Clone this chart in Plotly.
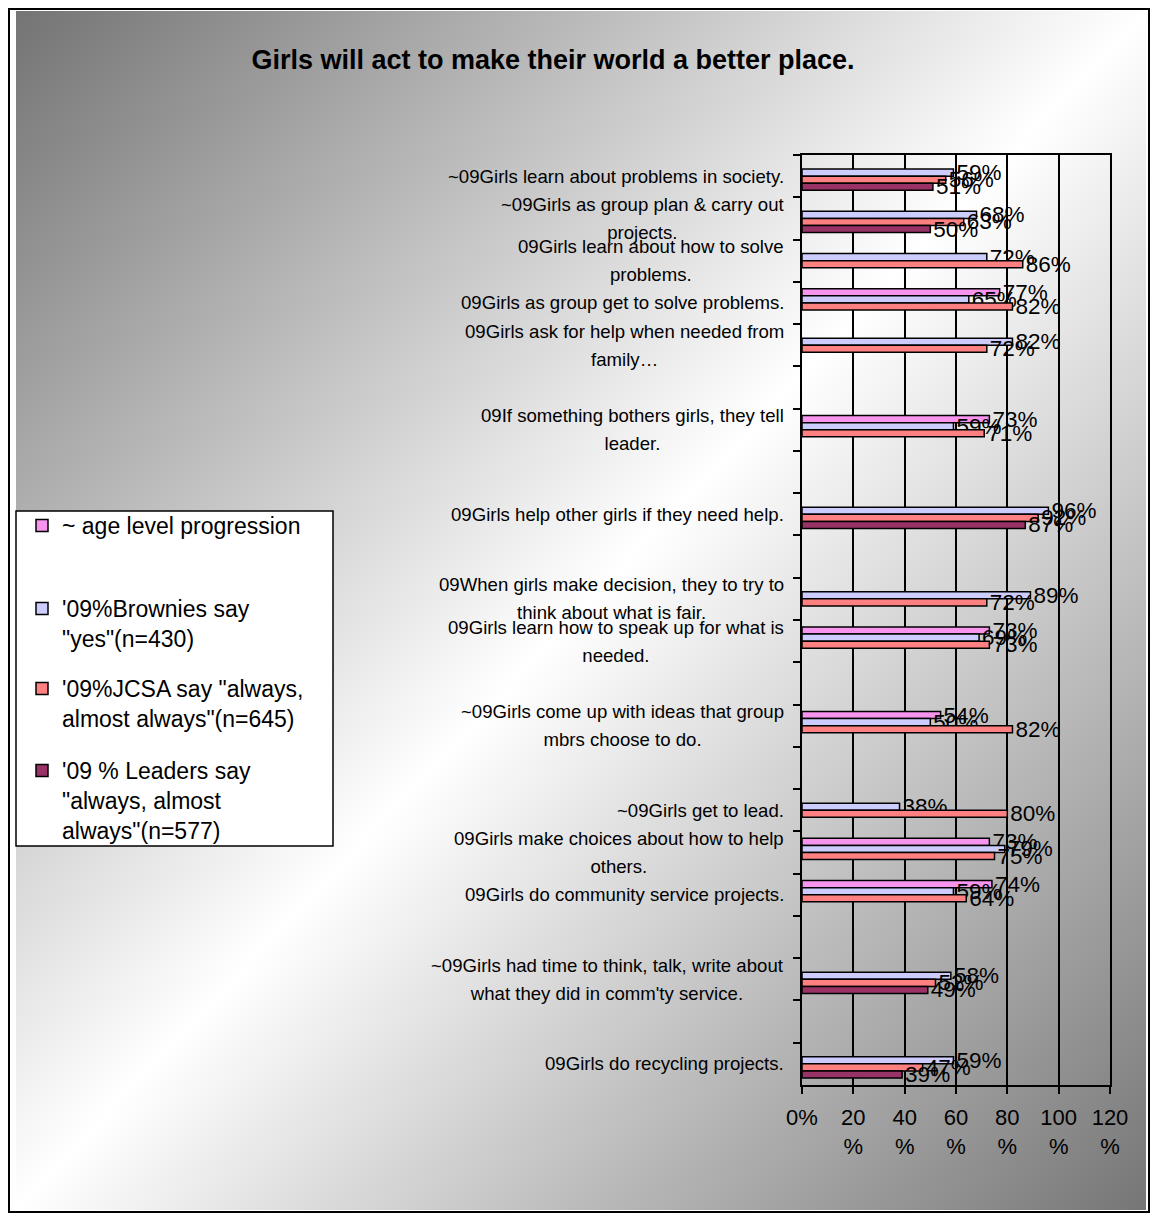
import base64
import plotly.graph_objects as go

# ---------------- data ----------------
labels = [
    "~09Girls learn about problems in society.",
    "~09Girls as group plan & carry out<br>projects.",
    "09Girls learn about how to solve<br>problems.",
    "09Girls as group get to solve problems.",
    "09Girls ask for help when needed from<br>family…",
    "",
    "09If something bothers girls, they tell<br>leader.",
    "",
    "09Girls help other girls if they need help.",
    "",
    "09When girls make decision, they to try to<br>think about what is fair.",
    "09Girls learn how to speak up for what is<br>needed.",
    "",
    "~09Girls come up with ideas that group<br>mbrs choose to do.",
    "",
    "~09Girls get to lead.",
    "09Girls make choices about how to help<br>others.",
    "09Girls do community service projects.",
    "",
    "~09Girls had time to think, talk, write about<br>what they did in comm'ty service.",
    "",
    "09Girls do recycling projects.",
]
N = None
progression = [N, N, N, 77, N, N, 73, N, N, N, N, 73, N, 54, N, N, 73, 74, N, N, N, N]
brownies = [59, 68, 72, 65, 82, N, 59, N, 96, N, 89, 69, N, 50, N, 38, 79, 59, N, 58, N, 59]
jcsa = [56, 63, 86, 82, 72, N, 71, N, 92, N, 72, 73, N, 82, N, 80, 75, 64, N, 52, N, 47]
leaders = [51, 50, N, N, N, N, N, N, 87, N, N, N, N, N, N, N, N, N, N, 49, N, 39]

series_names = [
    "~ age level progression",
    "'09%Brownies say<br>\"yes\"(n=430)",
    "'09%JCSA say \"always,<br>almost always\"(n=645)",
    "'09 % Leaders say<br>\"always, almost<br>always\"(n=577)",
]
series_colors = ["#F794EE", "#CCCCFF", "#FF8080", "#993366"]

tick_vals = [0, 20, 40, 60, 80, 100, 120]
tick_text = ["0%", "20<br>%", "40<br>%", "60<br>%", "80<br>%", "100<br>%", "120<br>%"]

title_text = "Girls will act to make their world a better place."

# ---------------- geometry (screen px -> figure) ----------------
OFF = 8                      # page margin around the figure
W, H = 1142, 1205            # figure size so the page fits the 1158x1221 window
PX0, PX1, PY0, PY1 = 802, 1110, 155, 1085   # plot area in screen px
L, R = PX0 - OFF, W - (PX1 - OFF)
T, B = PY0 - OFF, H - (PY1 - OFF)
PW, PH = W - L - R, H - T - B
FONT = "Liberation Sans, Arial, sans-serif"


def px(sx):
    return (sx - OFF - L) / PW


def py(sy):
    return (H - B - (sy - OFF)) / PH


def cx(sx):
    return (sx - OFF) / W


def cy(sy):
    return 1 - (sy - OFF) / H


# unique keys for the category axis (blank slots need distinct names)
cats = [lab if lab else "blank%d" % i for i, lab in enumerate(labels)]

fig = go.Figure()
legend_ids = ["legend", "legend2", "legend3", "legend4"]
for vals, name, color, lg in zip([progression, brownies, jcsa, leaders],
                                 series_names, series_colors, legend_ids):
    fig.add_trace(go.Bar(
        y=cats, x=vals, orientation="h", name=name,
        marker=dict(color=color, line=dict(color="black", width=1.5)),
        text=[("%d%%" % v) if v is not None else "" for v in vals],
        textposition="outside", constraintext="none", cliponaxis=False,
        textfont=dict(family=FONT, size=22.5, color="black"),
        legend=lg,
    ))

# gradient background as an svg image
svg = ("<svg xmlns='http://www.w3.org/2000/svg' width='1130' height='1205' "
       "preserveAspectRatio='none' viewBox='0 0 1130 1205'>"
       "<defs><linearGradient id='g' x1='0' y1='0' x2='1' y2='1'>"
       "<stop offset='0' stop-color='#747474'/>"
       "<stop offset='0.5' stop-color='#ffffff'/>"
       "<stop offset='1' stop-color='#767676'/>"
       "</linearGradient></defs>"
       "<rect x='0' y='0' width='1130' height='1205' fill='url(#g)'/></svg>")
src = "data:image/svg+xml;base64," + base64.b64encode(svg.encode()).decode()
gx0, gy0, gx1, gy1 = 16, 11, 1146, 1210
fig.add_layout_image(dict(
    source=src, xref="paper", yref="paper",
    x=px(gx0), y=py(gy0), sizex=(gx1 - gx0) / PW, sizey=(gy1 - gy0) / PH,
    sizing="stretch", xanchor="left", yanchor="top", layer="below",
))

# outer border (kept inside the figure)
fig.add_shape(type="rect", xref="paper", yref="paper",
              x0=px(OFF + 1), x1=px(OFF + W - 1), y0=py(OFF + 1), y1=py(OFF + H - 1),
              line=dict(color="black", width=2), fillcolor="rgba(0,0,0,0)", layer="below")
# legend box
fig.add_shape(type="rect", xref="paper", yref="paper",
              x0=px(16), x1=px(333), y0=py(511), y1=py(846),
              line=dict(color="black", width=1.5), fillcolor="white", layer="below")

# category labels (wider line spacing: base font sets spacing, span sets glyph size)
for lab, key in zip(labels, cats):
    if not lab:
        continue
    lines = lab.split("<br>")
    txt = "<br>".join("<span style='font-size:18.6px'>%s</span>" % ln for ln in lines)
    fig.add_annotation(
        xref="paper", yref="y", x=px(786), y=key, text=txt,
        xanchor="right", yanchor="middle", align="center", showarrow=False,
        font=dict(family=FONT, size=21.8, color="black"),
    )

leg_common = dict(xref="container", yref="container", xanchor="left", yanchor="top",
                  bgcolor="rgba(0,0,0,0)", borderwidth=0, valign="top",
                  font=dict(family=FONT, size=23, color="black"))
leg_tops = [504, 587, 667, 749]
legends = {}
for lg, top in zip(legend_ids, leg_tops):
    legends[lg] = dict(leg_common, x=cx(22), y=cy(top))

fig.update_layout(
    width=W, height=H,
    margin=dict(l=L, r=R, t=T, b=B, autoexpand=False),
    paper_bgcolor="white", plot_bgcolor="rgba(0,0,0,0)",
    barmode="group", bargap=0.33, bargroupgap=0,
    showlegend=True,
    title=dict(text="<b>" + title_text + "</b>", xref="container", yref="container",
               x=cx(553), y=cy(60), xanchor="center", yanchor="middle",
               font=dict(family=FONT, size=27, color="black")),
    xaxis=dict(range=[0, 120], tickvals=tick_vals, ticktext=tick_text,
               showgrid=True, gridcolor="black", gridwidth=1.5,
               showline=True, linecolor="black", linewidth=2, mirror=True,
               ticks="outside", ticklen=7, tickwidth=1.5, tickcolor="black",
               ticklabelstandoff=5,
               tickfont=dict(family=FONT, size=22, color="black"), zeroline=False),
    yaxis=dict(categoryorder="array", categoryarray=cats, autorange="reversed",
               showticklabels=False, showgrid=False,
               showline=True, linecolor="black", linewidth=2, mirror=True,
               ticks="outside", tickson="boundaries", ticklen=7, tickwidth=1.5,
               tickcolor="black"),
    **legends,
)

fig.write_html("out.html")
